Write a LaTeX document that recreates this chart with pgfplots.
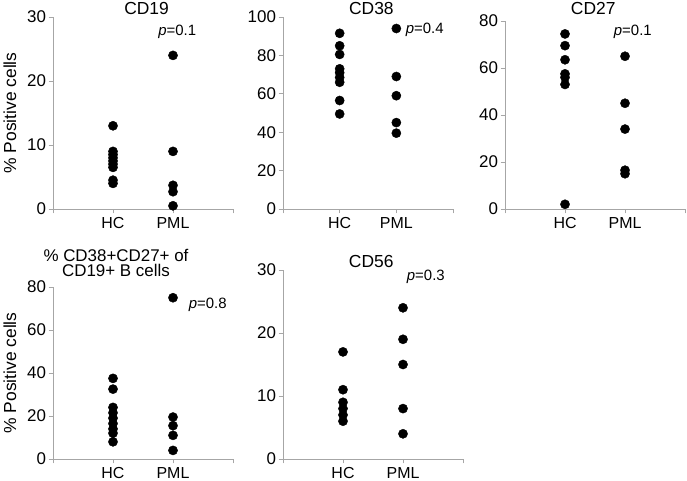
\documentclass[border=0pt]{standalone}
\usepackage{pgfplots}
\pgfplotsset{compat=1.18}
\usepackage{fontspec}
\setmainfont{Liberation Sans}

\pgfplotsset{
  panel/.style={
    scale only axis,
    axis lines*=left,
    axis line style={gray!70, line width=0.8bp},
    tick style={gray!70, line width=0.8bp},
    tick align=outside,
    major tick length=4.5bp,
    xmin=0, xmax=3, ymin=0,
    xtick={0,1,2,3}, xticklabels={,HC,PML,},
    x tick label style={font=\fontsize{16}{18}\selectfont, inner sep=1bp, yshift=-3bp},
    y tick label style={font=\fontsize{17}{19}\selectfont, xshift=1bp},
    /pgf/number format/assume math mode=true,
    ylabel style={font=\fontsize{17.5}{19}\selectfont,
      at={(axis description cs:-0.24,0.5)}, anchor=center},
    clip=false,
  },
  dots/.style={only marks, mark=*, mark size=4.6bp, black},
}
\tikzset{
  ttl/.style={font=\fontsize{17.5}{19}\selectfont},
  pv/.style={font=\fontsize{15}{17}\selectfont},
}

\begin{document}
\begin{tikzpicture}[x=1bp,y=1bp]
\useasboundingbox (0,0) rectangle (687,481);

% CD19
\begin{axis}[panel, at={(53bp,272bp)}, anchor=south west, width=180bp, height=192bp,
  ymax=30, ytick={0,10,20,30}, ylabel={\% Positive cells}]
\addplot[dots] coordinates {(1,13) (1,9) (1,8.5) (1,8) (1,7.5) (1,7) (1,6.5) (1,4.5) (1,4.0)};
\addplot[dots] coordinates {(2,24) (2,9) (2,3.7) (2,2.7) (2,0.5)};
\node[ttl] at (rel axis cs:0.52,1.045) {CD19};
\node[pv] at (axis cs:2.07,27.7) {\emph{p}=0.1};
\end{axis}

% CD38
\begin{axis}[panel, at={(283bp,272bp)}, anchor=south west, width=170bp, height=192bp,
  ymax=100, ytick={0,20,...,100}]
\addplot[dots] coordinates {(1,91.5) (1,85) (1,80.5) (1,73) (1,71) (1,68.5) (1,66) (1,56.5) (1,49.5)};
\addplot[dots] coordinates {(2,94) (2,69) (2,59) (2,45) (2,39.5)};
\node[ttl] at (rel axis cs:0.52,1.045) {CD38};
\node[pv] at (axis cs:2.5,93.2) {\emph{p}=0.4};
\end{axis}

% CD27
\begin{axis}[panel, at={(505bp,272bp)}, anchor=south west, width=180bp, height=188bp,
  ymax=80, ytick={0,20,...,80}]
\addplot[dots] coordinates {(1,74.5) (1,69.5) (1,63.5) (1,57.5) (1,56) (1,53) (1,2)};
\addplot[dots] coordinates {(2,65) (2,45) (2,34) (2,16.5) (2,15)};
\node[ttl] at (rel axis cs:0.49,1.065) {CD27};
\node[pv] at (axis cs:2.13,75.3) {\emph{p}=0.1};
\end{axis}

% CD38+CD27+
\begin{axis}[panel, at={(53bp,22bp)}, anchor=south west, width=180bp, height=172bp,
  ymax=80, ytick={0,20,...,80}, ylabel={\% Positive cells}]
\addplot[dots] coordinates {(1,37.5) (1,32.5) (1,24) (1,21.5) (1,19) (1,16.5) (1,14) (1,12) (1,8)};
\addplot[dots] coordinates {(2,75) (2,19.5) (2,15.5) (2,11) (2,4)};
\node[font=\fontsize{17}{15.5}\selectfont, align=center, anchor=base, inner sep=0pt]
  at ([yshift=10bp]rel axis cs:0.35,1) {\% CD38+CD27+ of\\CD19+ B cells};
\node[pv] at (axis cs:2.58,71.6) {\emph{p}=0.8};
\end{axis}

% CD56
\begin{axis}[panel, at={(283bp,22bp)}, anchor=south west, width=180bp, height=189bp,
  ymax=30, ytick={0,10,20,30}]
\addplot[dots] coordinates {(1,17) (1,11) (1,9) (1,8) (1,7) (1,6)};
\addplot[dots] coordinates {(2,24) (2,19) (2,15) (2,8) (2,4)};
\node[ttl] at (rel axis cs:0.49,1.045) {CD56};
\node[pv] at (axis cs:2.38,28.9) {\emph{p}=0.3};
\end{axis}
\end{tikzpicture}
\end{document}
